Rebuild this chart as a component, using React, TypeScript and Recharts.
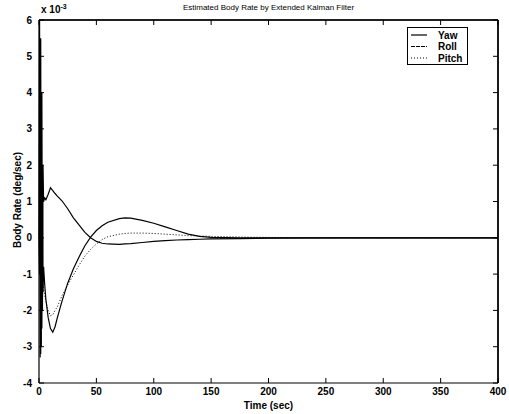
import React from 'react';
import { LineChart, Line, XAxis, YAxis, ReferenceLine } from 'recharts';

const timeSec = [0, 0.5, 1, 1.5, 2, 2.5, 3, 3.5, 4, 5, 6, 8, 10, 12, 14, 16, 20, 25, 30, 35, 40, 45, 50, 55, 60, 70, 75, 80, 90, 100, 110, 120, 130, 140, 150, 175, 200, 250, 300, 350, 400];
const yaw = [0, 6, -3.3, 5.5, -3.0, 4, -2, 2, 1.0, 1.1, 1.05, 1.2, 1.38, 1.3, 1.22, 1.15, 1.02, 0.8, 0.55, 0.35, 0.15, 0.0, -0.1, -0.15, -0.17, -0.18, -0.17, -0.16, -0.13, -0.1, -0.08, -0.06, -0.05, -0.04, -0.03, -0.02, -0.01, 0, 0, 0, 0];
const roll = [0, -1, 3, -3.2, 2, -2.5, 1, -1.5, -0.8, -1.3, -1.7, -2.2, -2.5, -2.6, -2.45, -2.2, -1.75, -1.25, -0.85, -0.52, -0.22, 0.02, 0.2, 0.33, 0.43, 0.53, 0.55, 0.54, 0.48, 0.4, 0.3, 0.2, 0.1, 0.04, 0.01, 0, 0, 0, 0, 0, 0];
const pitch = [0, 0.5, -0.5, -1, -0.6, -1.2, -1.0, -1.3, -1.4, -1.6, -1.75, -2.0, -2.15, -2.12, -2.0, -1.9, -1.6, -1.3, -1.02, -0.75, -0.5, -0.32, -0.17, -0.05, 0.03, 0.1, 0.12, 0.13, 0.13, 0.12, 0.1, 0.08, 0.06, 0.05, 0.04, 0.02, 0.01, 0, 0, 0, 0];

const xTicks = [0, 50, 100, 150, 200, 250, 300, 350, 400];
const yTicks = [-4, -3, -2, -1, 0, 1, 2, 3, 4, 5, 6];
const seriesNames = ['Yaw', 'Roll', 'Pitch'];
const xMax = 400;
const yMax = 6;

const data = timeSec.map((t, i) => ({ t, Yaw: yaw[i], Roll: roll[i], Pitch: pitch[i] }));

const FONT = '"Liberation Sans", Arial, Helvetica, sans-serif';
const tickStyle = { fontSize: 10, fontWeight: 'bold' as const, fill: '#000', fontFamily: FONT };
const blank = () => '';

const dashes: Record<string, string | undefined> = { Yaw: undefined, Roll: '4 1', Pitch: '1 2' };

const LegendBox = () => (
  <svg width={61} height={38} style={{ display: 'block' }}>
    <rect x={0.5} y={0.5} width={60} height={37} fill="#fff" stroke="#000" strokeWidth={1} />
    {seriesNames.map((n, i) => (
      <g key={n}>
        <line x1={4} x2={20} y1={8 + i * 11.5} y2={8 + i * 11.5} stroke="#000" strokeWidth={1.2} strokeDasharray={dashes[n]} />
        <text x={31} y={11.5 + i * 11.5} fontSize={10} fontWeight="bold" fontFamily={FONT} fill="#000">{n}</text>
      </g>
    ))}
  </svg>
);

export default function App() {
  return (
    <div style={{ position: 'absolute', left: 0, top: 0, width: 509, height: 414, background: '#fff', fontFamily: FONT }}>
      <LineChart width={509} height={414} data={data} margin={{ top: 19, right: 10, bottom: 0, left: 0 }}>
        <XAxis xAxisId="b" dataKey="t" type="number" domain={[0, 400]} ticks={xTicks} interval={0}
          height={31} tickSize={-5} tickMargin={10} stroke="#000" tick={tickStyle} axisLine={{ stroke: '#000', strokeWidth: 1.2 }} />
        <XAxis xAxisId="top" orientation="top" dataKey="t" type="number" domain={[0, 400]} ticks={xTicks} interval={0}
          height={1} tickSize={-5} tickMargin={0} tickFormatter={blank} stroke="#000" axisLine={{ stroke: '#000', strokeWidth: 1.2 }} />
        <YAxis yAxisId="l" type="number" domain={[-4, 6]} ticks={yTicks} interval={0} width={39}
          tickSize={-5} tickMargin={12} stroke="#000" tick={tickStyle} axisLine={{ stroke: '#000', strokeWidth: 1.2 }} />
        <YAxis yAxisId="r" orientation="right" type="number" domain={[-4, 6]} ticks={yTicks} interval={0} width={1}
          tickSize={-5} tickMargin={0} tickFormatter={blank} stroke="#000" axisLine={{ stroke: '#000', strokeWidth: 1.2 }} />
        <ReferenceLine xAxisId="b" yAxisId="l" y={yMax} stroke="#000" strokeWidth={1.5} ifOverflow="visible" />
        <ReferenceLine xAxisId="b" yAxisId="l" x={xMax} stroke="#000" strokeWidth={1.5} ifOverflow="visible" />
        <Line xAxisId="top" yAxisId="r" dataKey="Pitch" stroke="none" dot={false} isAnimationActive={false} legendType="none" />
        <Line xAxisId="b" yAxisId="l" dataKey="Yaw" stroke="#000" strokeWidth={1.2} dot={false} isAnimationActive={false} type="linear" />
        <Line xAxisId="b" yAxisId="l" dataKey="Roll" stroke="#000" strokeWidth={1.2} dot={false} isAnimationActive={false} type="linear" />
        <Line xAxisId="b" yAxisId="l" dataKey="Pitch" stroke="#000" strokeWidth={1} strokeDasharray="1 2" dot={false} isAnimationActive={false} type="linear" />
      </LineChart>
      <div style={{ position: 'absolute', left: 0, width: 537, top: 3, textAlign: 'center', fontSize: 8, fontFamily: FONT, color: '#000' }}>
        Estimated Body Rate by Extended Kalman Filter
      </div>
      <div style={{ position: 'absolute', left: 41, top: 3, fontSize: 10, fontWeight: 'bold', fontFamily: FONT, color: '#000' }}>
        x 10<sup style={{ fontSize: 7 }}>-3</sup>
      </div>
      <div style={{ position: 'absolute', left: 0, width: 537, top: 400, textAlign: 'center', fontSize: 10, fontWeight: 'bold', fontFamily: FONT, color: '#000' }}>
        Time (sec)
      </div>
      <div style={{ position: 'absolute', left: 17, top: 200, transform: 'translate(-50%, -50%) rotate(-90deg)', whiteSpace: 'nowrap', fontSize: 10, fontWeight: 'bold', fontFamily: FONT, color: '#000' }}>
        Body Rate (deg/sec)
      </div>
      <div style={{ position: 'absolute', left: 407, top: 27 }}>
        <LegendBox />
      </div>
    </div>
  );
}
